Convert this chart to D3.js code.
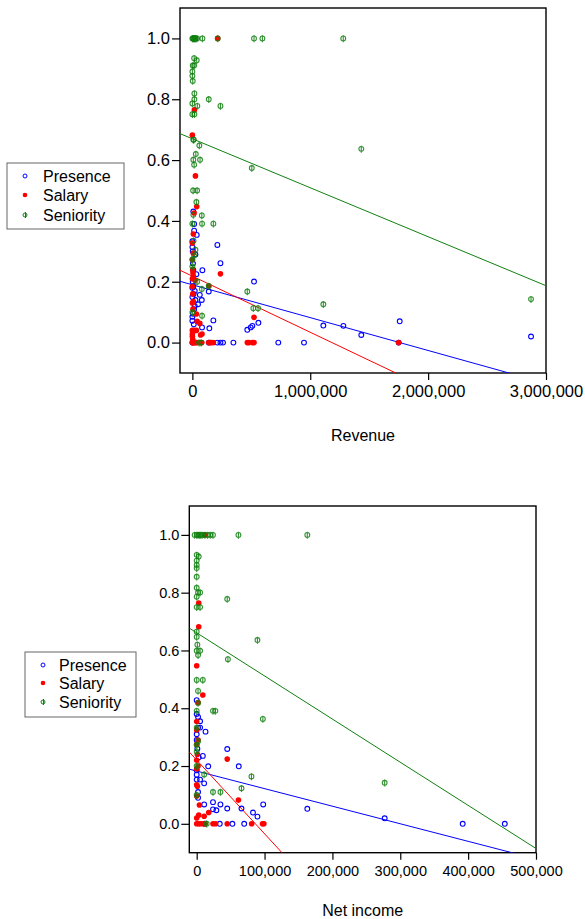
<!DOCTYPE html>
<html>
<head>
<meta charset="utf-8">
<script src="https://cdn.jsdelivr.net/npm/d3@7"></script>
<style>
  body { margin: 0; background: #fff; }
  svg { display: block; font-family: "Liberation Sans", Arial, sans-serif; }
</style>
</head>
<body>
<svg id="chart" width="585" height="919"></svg>
<script>
// ---- data ----
const seriesNames = ["Presence", "Salary", "Seniority"];

// top panel: x = Revenue
const revPresence = [[8000,0.431],[15000,0.39],[15000,0.368],[37000,0.354],[212000,0.321],[0,0.333],[0,0.314],[26000,0.29],
  [238000,0.261],[8000,0.239],[85000,0.238],[34000,0.225],[523000,0.2007],[8000,0.185],[0,0.18],[139000,0.168],[63000,0.157],
  [0,0.15],[80000,0.14],[26000,0.14],[48000,0.126],[15000,0.11],[0,0.085],[0,0.072],[178000,0.073],[1759000,0.07],[560000,0.065],
  [1111000,0.056],[1281000,0.055],[509000,0.055],[82000,0.05],[495000,0.05],[144000,0.047],[466000,0.042],[1433000,0.025],
  [2873000,0.02],[5000,0.26],[3000,0.2],[10000,0.16],[20000,0.12],[5000,0.095],[12000,0.06],[20000,0.17],[3000,0.3],
  [0,0],[139000,0],[212000,0],[238000,0],[260000,0],[348000,0],[729000,0],[947000,0],[1750000,0]];
const revSalary = [[215000,1],[17000,0.765],[0,0.682],[26000,0.548],[37000,0.447],[15000,0.426],[8000,0.357],[0,0.327],
  [8000,0.294],[0,0.272],[238000,0.226],[8000,0.219],[22000,0.205],[0,0.184],[139000,0.186],[8000,0.135],[0,0.13],[34000,0.094],
  [523000,0.083],[40000,0.07],[63000,0.063],[0,0.04],[15000,0.04],[34000,0.04],[0,0.028],[82000,0.028],[70000,0.025],
  [3000,0.24],[5000,0.23],[0,0.21],[3000,0.16],[5000,0.11],[0,0.02],[3000,0.01],
  [0,0],[5000,0],[10000,0],[20000,0],[30000,0],[40000,0],[70000,0],[80000,0],[139000,0],[150000,0],[160000,0],[178000,0],
  [466000,0],[480000,0],[509000,0],[523000,0],[1750000,0]];
const revSeniority = [[0,1],[5000,1],[10000,1],[15000,1],[20000,1],[25000,1],[30000,1],[40000,1],[85000,1],[215000,1],
  [523000,1],[594000,1],[1280000,1],[15000,0.935],[37000,0.928],[3000,0.911],[15000,0.911],[0,0.891],[0,0.877],[3000,0.86],
  [17000,0.819],[17000,0.8],[139000,0.8],[0,0.786],[42000,0.778],[238000,0.778],[0,0.751],[17000,0.751],[8000,0.667],
  [12000,0.667],[59000,0.648],[1433000,0.637],[29000,0.62],[8000,0.601],[65000,0.601],[15000,0.585],[504000,0.574],
  [6000,0.5],[40000,0.5],[34000,0.462],[8000,0.42],[80000,0.418],[0,0.391],[82000,0.391],[178000,0.391],[10000,0.335],
  [26000,0.305],[15000,0.286],[0,0.273],[0,0.25],[40000,0.2],[139000,0.186],[80000,0.176],[466000,0.168],[1111000,0.126],
  [517000,0.113],[557000,0.113],[2873000,0.143],[0,0.1],[82000,0.088],[57000,0],[75000,0]];

// bottom panel: x = Net income
const niPresence = [[0,0.428],[0,0.38],[2000,0.37],[5000,0.355],[2000,0.333],[5000,0.333],[13000,0.319],[0,0.31],
  [45000,0.259],[9000,0.235],[17000,0.199],[62000,0.199],[0,0.185],[0,0.153],[5000,0.153],[11000,0.14],[2000,0.11],
  [11000,0.067],[35000,0.067],[98000,0.067],[24000,0.075],[45000,0.053],[66000,0.053],[163000,0.052],[24000,0.05],
  [29000,0.047],[83000,0.039],[89500,0.025],[277000,0.019],[1000,0.26],[0,0.29],[3000,0.23],[0,0.17],[2000,0.09],
  [12000,0],[34000,0],[52600,0],[70000,0],[392000,0],[454000,0]];
const niSalary = [[12000,1],[3000,0.764],[3000,0.682],[0,0.547],[9000,0.446],[2000,0.42],[0,0.354],[0,0.325],[2000,0.29],
  [0,0.275],[45000,0.224],[0,0.22],[0,0.19],[0,0.135],[0,0.096],[61500,0.082],[4000,0.065],[17700,0.039],[11000,0.026],
  [3000,0.03],[1000,0.24],[2000,0.2],[1000,0.13],[0,0.02],
  [0,0],[3000,0],[6000,0],[10000,0],[12000,0],[24000,0],[28000,0],[45000,0],[81000,0],[97000,0],[99000,0]];
const niSeniority = [[-3000,1],[0,1],[2000,1],[4000,1],[6000,1],[8000,1],[12000,1],[16000,1],[20000,1],[24000,1],
  [61500,1],[163000,1],[0,0.931],[3000,0.925],[0,0.911],[0,0.896],[0,0.885],[0,0.855],[0,0.817],[2000,0.801],[5000,0.801],
  [0,0.786],[45000,0.778],[0,0.75],[5000,0.75],[0,0.665],[0,0.647],[89500,0.636],[1000,0.62],[0,0.599],[5000,0.599],
  [2000,0.584],[46000,0.57],[0,0.498],[9000,0.498],[2000,0.46],[2000,0.418],[0,0.391],[24000,0.391],[27500,0.391],
  [97500,0.363],[0,0.333],[2000,0.286],[0,0.273],[0,0.25],[0,0.2],[11000,0.171],[80700,0.164],[277000,0.142],[66000,0.123],
  [24000,0.11],[35000,0.11],[0,0.1],[14700,0]];

// fitted lines: [intercept, slope per unit x] for Presence, Salary, Seniority
const revFits = [[0.190, -0.108e-6], [0.2184, -0.1845e-6], [0.670, -0.161e-6]];
const niFits = [[0.1825, -0.608e-6], [0.2205, -2.55e-6], [0.661, -1.493e-6]];

const yTicks = [0, 0.2, 0.4, 0.6, 0.8, 1.0];
const revTicks = [0, 1000000, 2000000, 3000000];
const niTicks = [0, 100000, 200000, 300000, 400000, 500000];

// ---- drawing ----
const colors = ["#0000ff", "#ff0000", "#108010"];
const svg = d3.select("#chart");

function panel(o) {
  const g = svg.append("g");
  const x = d3.scaleLinear().domain(o.xDomain).range([o.left, o.right]);
  const y = d3.scaleLinear().domain([-0.1, 1.1]).range([o.bottom, o.top]);

  const clipId = "clip" + o.id;
  g.append("clipPath").attr("id", clipId)
    .append("rect")
    .attr("x", o.left).attr("y", o.top)
    .attr("width", o.right - o.left).attr("height", o.bottom - o.top);

  // axes
  const xa = g.append("g").attr("transform", `translate(0,${o.bottom})`)
    .call(d3.axisBottom(x).tickValues(o.xTicks).tickFormat(d3.format(",")).tickSize(7).tickPadding(o.xPad));
  const ya = g.append("g").attr("transform", `translate(${o.left},0)`)
    .call(d3.axisLeft(y).tickValues(yTicks).tickFormat(d3.format(".1f")).tickSize(8).tickPadding(2));
  [xa, ya].forEach(a => {
    a.select(".domain").remove();
    a.selectAll("line").attr("stroke", "#000").attr("stroke-width", 1.2);
    a.selectAll("text").attr("fill", "#000").style("font-size", o.tickFont + "px")
      .style("font-family", "'Liberation Sans', Arial, sans-serif");
  });

  g.append("rect")
    .attr("x", o.left).attr("y", o.top)
    .attr("width", o.right - o.left).attr("height", o.bottom - o.top)
    .attr("fill", "none").attr("stroke", "#000").attr("stroke-width", 1.4);

  g.append("text")
    .attr("x", (o.left + o.right) / 2).attr("y", o.titleY)
    .attr("text-anchor", "middle").style("font-size", "16px").attr("fill", "#000")
    .text(o.title);

  const plot = g.append("g").attr("clip-path", `url(#${clipId})`);

  // fitted lines
  o.fits.forEach((f, i) => {
    const [x0, x1] = o.xDomain;
    plot.append("line")
      .attr("x1", x(x0)).attr("y1", y(f[0] + f[1] * x0))
      .attr("x2", x(x1)).attr("y2", y(f[0] + f[1] * x1))
      .attr("stroke", colors[i]).attr("stroke-width", 1);
  });

  // points
  plot.append("g").selectAll("circle").data(o.presence).join("circle")
    .attr("cx", d => x(d[0])).attr("cy", d => y(d[1])).attr("r", 2.4)
    .attr("fill", "none").attr("stroke", colors[0]).attr("stroke-width", 1.1);
  plot.append("g").selectAll("circle").data(o.salary).join("circle")
    .attr("cx", d => x(d[0])).attr("cy", d => y(d[1])).attr("r", 2.8)
    .attr("fill", colors[1]);
  const sen = plot.append("g").selectAll("g").data(o.seniority).join("g")
    .attr("transform", d => `translate(${x(d[0])},${y(d[1])})`)
    .attr("opacity", 0.85);
  sen.append("circle").attr("r", 2.4).attr("fill", "none")
    .attr("stroke", colors[2]).attr("stroke-width", 1.1);
  sen.append("line").attr("y1", -3.2).attr("y2", 3.8)
    .attr("stroke", colors[2]).attr("stroke-width", 1.1);

  // legend
  const lg = svg.append("g");
  lg.append("rect")
    .attr("x", o.leg.x).attr("y", o.leg.y).attr("width", o.leg.w).attr("height", o.leg.h)
    .attr("fill", "#fff").attr("stroke", "#666").attr("stroke-width", 1);
  seriesNames.forEach((name, i) => {
    const cy = o.leg.rows[i];
    const mx = o.leg.mx;
    if (i === 0) {
      lg.append("circle").attr("cx", mx).attr("cy", cy).attr("r", 2)
        .attr("fill", "none").attr("stroke", colors[0]).attr("stroke-width", 1);
    } else if (i === 1) {
      lg.append("circle").attr("cx", mx).attr("cy", cy).attr("r", 2.3).attr("fill", colors[1]);
    } else {
      lg.append("circle").attr("cx", mx).attr("cy", cy).attr("r", 2)
        .attr("fill", "none").attr("stroke", colors[2]).attr("stroke-width", 1);
      lg.append("line").attr("x1", mx + 0.5).attr("x2", mx + 0.5).attr("y1", cy - 3).attr("y2", cy + 3)
        .attr("stroke", colors[2]).attr("stroke-width", 1);
    }
    lg.append("text").attr("x", o.leg.tx).attr("y", cy + 6)
      .style("font-size", "16px").attr("fill", "#000").text(name);
  });
}

panel({
  id: "rev", xDomain: [-105000, 3000000], xTicks: revTicks,
  left: 180, right: 546, top: 8, bottom: 373,
  presence: revPresence, salary: revSalary, seniority: revSeniority, fits: revFits,
  title: "Revenue", titleY: 441, tickFont: 16.5, xPad: 5,
  leg: { x: 7, y: 163, w: 117, h: 66, mx: 25, tx: 43, rows: [176, 195, 215] }
});

panel({
  id: "ni", xDomain: [-10900, 500000], xTicks: niTicks,
  left: 189.3, right: 536, top: 506, bottom: 852.7,
  presence: niPresence, salary: niSalary, seniority: niSeniority, fits: niFits,
  title: "Net income", titleY: 916, tickFont: 14.5, xPad: 6,
  leg: { x: 25, y: 652, w: 111, h: 65, mx: 43, tx: 59, rows: [665, 683, 702] }
});
</script>
</body>
</html>
